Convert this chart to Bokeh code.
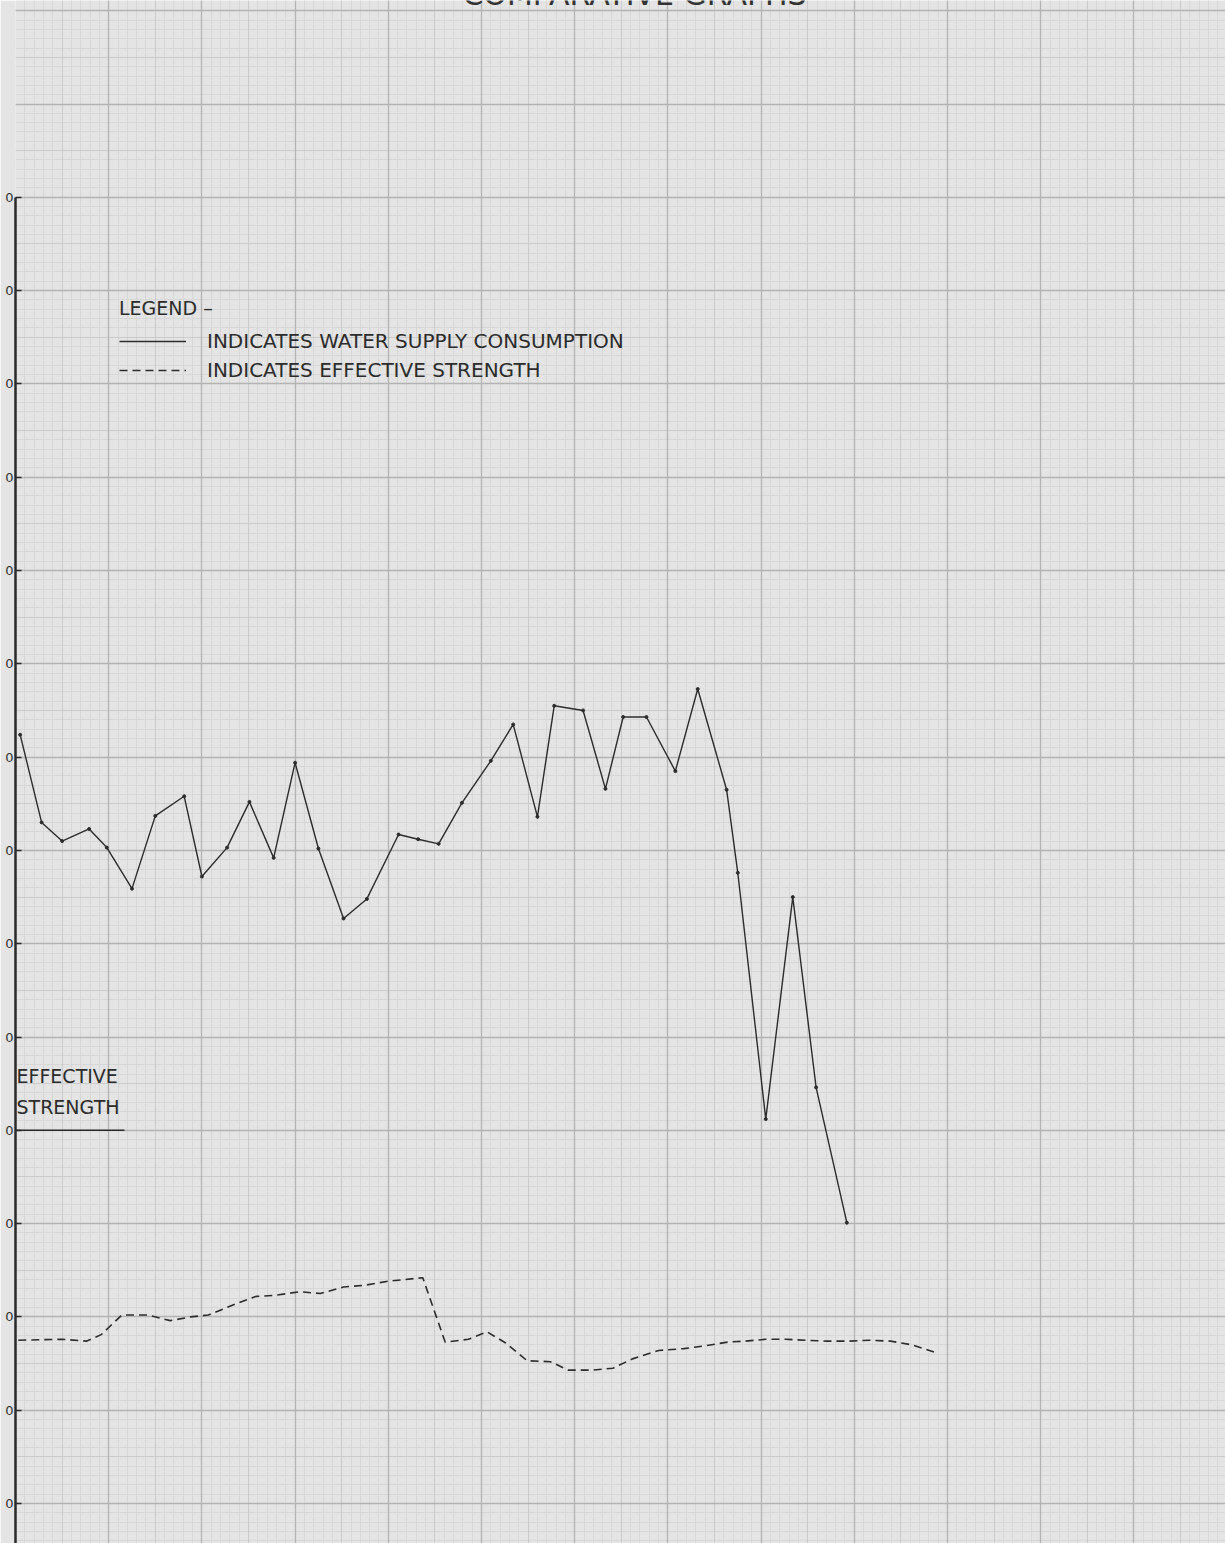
from bokeh.plotting import figure
from bokeh.models import Range1d, FixedTicker, Grid, LinearAxis, Legend, LegendItem
from bokeh.core.properties import value
from bokeh.embed import file_html
from bokeh.resources import INLINE
import numpy as np

# ---------------- data (read from the scanned sheet) ----------------
# x: position along the horizontal axis, 10 units per major square
consumption_x = [0.5, 2.8, 5.0, 7.9, 9.8, 12.5, 15.0, 18.1, 20.0, 22.7, 25.1, 27.7,
                 30.0, 32.5, 35.2, 37.7, 41.1, 43.2, 45.4, 47.9, 51.0, 53.4, 56.0, 57.8,
                 60.9, 63.3, 65.2, 67.7, 70.8, 73.2, 76.3, 77.5, 80.5, 83.4, 85.9, 89.2]
consumption = [92.4, 83.0, 81.0, 82.3, 80.3, 75.9, 83.7, 85.8, 77.2, 80.3, 85.2, 79.2,
               89.4, 80.2, 72.7, 74.8, 81.7, 81.2, 80.7, 85.1, 89.6, 93.5, 83.6, 95.5,
               95.0, 86.6, 94.3, 94.3, 88.5, 97.3, 86.5, 77.6, 51.2, 75.0, 54.6, 40.1]

strength_x = [0.3, 5.0, 7.6, 9.2, 11.4, 14.2, 16.6, 18.8, 20.7, 23.4, 25.8, 27.7,
              30.6, 32.7, 35.2, 37.5, 39.8, 41.7, 43.7, 46.1, 48.6, 50.6, 52.6, 54.9,
              57.4, 59.3, 61.9, 64.1, 66.2, 69.0, 71.7, 74.0, 76.4, 78.3, 80.5, 82.6,
              84.8, 87.1, 89.4, 91.7, 93.9, 96.2, 99.0]
strength = [27.5, 27.6, 27.4, 28.1, 30.2, 30.2, 29.6, 30.0, 30.2, 31.3, 32.2, 32.3,
            32.7, 32.5, 33.2, 33.4, 33.8, 34.0, 34.2, 27.3, 27.6, 28.4, 27.2, 25.3,
            25.2, 24.3, 24.3, 24.5, 25.5, 26.4, 26.6, 26.9, 27.3, 27.4, 27.6, 27.6,
            27.5, 27.4, 27.4, 27.5, 27.4, 27.0, 26.1]

y_ticks = [10, 20, 30, 40, 50, 60, 70, 80, 90, 100, 110, 120, 130, 140, 150]
y_tick_labels = ["0"] * len(y_ticks)          # only the last digit survives on the scan
title_text = "COMPARATIVE GRAPHS"
legend_title = "LEGEND –"
legend_labels = ["INDICATES WATER SUPPLY CONSUMPTION", "INDICATES EFFECTIVE STRENGTH"]
scale_label = ["EFFECTIVE", "STRENGTH"]

# ---------------- layout ----------------
W, H = 1225, 1543
LEFT = 15
PX_X = 9.32          # pixels per x unit
PX_Y = 9.33          # pixels per y unit
FRAME_LEFT_PAGE = LEFT
FRAME_TOP_PAGE = 0
Y_REF_PAGE = 1503    # page y of value 10

def page_x(px):
    return (px - FRAME_LEFT_PAGE) / PX_X

def page_y(py):
    return 10 + (Y_REF_PAGE - py) / PX_Y

x0, x1 = 0.0, (W - LEFT) / PX_X
y0, y1 = page_y(FRAME_TOP_PAGE + H), page_y(FRAME_TOP_PAGE)

paper = "#e4e4e4"
ink = "#2c2c2c"
FONT = "DejaVu Sans"

p = figure(width=W, height=H, output_backend="svg", toolbar_location=None,
           x_range=Range1d(x0, x1), y_range=Range1d(y0, y1),
           x_axis_location=None, y_axis_location=None,
           min_border_left=LEFT, min_border_right=0, min_border_top=0, min_border_bottom=0,
           background_fill_color=paper, border_fill_color=paper, outline_line_color=None)

# graph-paper grid
def add_grid(dim, ticks, color, width):
    p.add_layout(Grid(dimension=dim, ticker=FixedTicker(ticks=list(ticks)),
                      grid_line_color=color, grid_line_width=width))

add_grid(0, np.arange(0, 131, 1), "#d7d7d7", 1)
add_grid(1, np.arange(0, 171, 1), "#d7d7d7", 1)
add_grid(0, np.arange(0, 131, 5), "#cbcbcb", 1)
add_grid(1, np.arange(0, 171, 5), "#cbcbcb", 1)
add_grid(0, np.arange(0, 131, 10), "#b3b3b3", 1.3)
add_grid(1, np.arange(0, 171, 10), "#b3b3b3", 1.3)

# left axis
yaxis = LinearAxis(ticker=FixedTicker(ticks=y_ticks),
                   major_label_overrides={t: lab for t, lab in zip(y_ticks, y_tick_labels)},
                   bounds=(y0, y_ticks[-1]),
                   axis_line_width=2.5, axis_line_color="#2a2a2a",
                   major_tick_in=6, major_tick_out=0, major_tick_line_width=1.5,
                   major_tick_line_color="#2a2a2a", minor_tick_line_color=None,
                   major_label_standoff=2, major_label_text_font_size="13px",
                   major_label_text_font=FONT, major_label_text_color="#333333")
p.add_layout(yaxis, "left")

# series
r1 = p.line(consumption_x, consumption, line_color=ink, line_width=1.4)
p.scatter(consumption_x, consumption, size=3, color=ink)
r2 = p.line(strength_x, strength, line_color=ink, line_width=1.6, line_dash="8 5")

# legend
legend = Legend(items=[LegendItem(label=legend_labels[0], renderers=[r1]),
                       LegendItem(label=legend_labels[1], renderers=[r2])],
                title=legend_title, location=(104, 1161),
                padding=0, margin=0, spacing=5, glyph_width=67, glyph_height=20,
                label_height=20, label_standoff=21, title_standoff=10,
                label_text_font=FONT, label_text_font_size="20px", label_text_color=ink,
                title_text_font=FONT, title_text_font_size="19px", title_text_font_style="normal",
                title_text_color=ink, background_fill_alpha=0, border_line_color=None)
p.add_layout(legend)

# scale label for lower curve
p.text(x=[page_x(16), page_x(16)], y=[page_y(1075), page_y(1106)], text=scale_label,
       text_font=value(FONT), text_font_size="19px", text_color=ink,
       text_baseline="middle", text_align="left")
p.segment(x0=[page_x(12)], y0=[50], x1=[page_x(124)], y1=[50], line_color=ink, line_width=1.6)

# title (cut off at the top edge of the sheet, as on the scan)
p.text(x=[page_x(634)], y=[page_y(-6)], text=[title_text],
       text_font=value(FONT), text_font_size="30px", text_color="#333333",
       text_baseline="middle", text_align="center")

open("out.html", "w").write(file_html(p, INLINE))
